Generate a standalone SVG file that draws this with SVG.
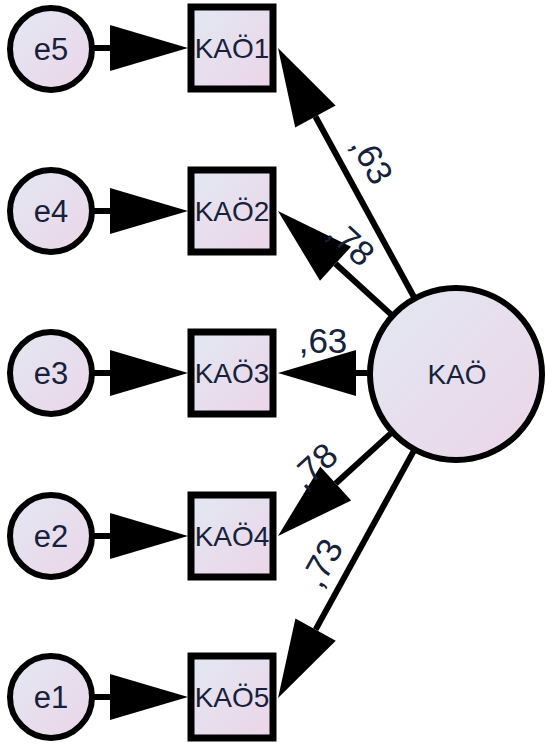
<svg xmlns="http://www.w3.org/2000/svg" width="546" height="748" viewBox="0 0 546 748">
<defs>
<linearGradient id="fill" x1="0" y1="0" x2="1" y2="1">
<stop offset="0" stop-color="#e2e8f2"/>
<stop offset="1" stop-color="#ecd5e8"/>
</linearGradient>
<marker id="ah" markerUnits="userSpaceOnUse" viewBox="0 0 78 46" markerWidth="78" markerHeight="46" refX="0" refY="23" orient="auto" overflow="visible">
<path d="M0,0 L78,23 L0,46 Z" fill="#000"/>
</marker>
<style>
.node{fill:url(#fill);stroke:#000;stroke-width:7}
.lat{fill:url(#fill);stroke:#000;stroke-width:6}
.t{font-family:"Liberation Sans",Arial,sans-serif;font-size:28px;fill:#17213a;text-anchor:middle}
.e{font-size:31px}
.lbl{font-family:"Liberation Sans",Arial,sans-serif;font-size:35px;fill:#17213a;text-anchor:middle}
.c line{stroke:#000;stroke-width:6;marker-end:url(#ah)}
</style>
</defs>
<rect width="546" height="748" fill="#fff"/>

<g class="c" id="connectors">
<line x1="92" y1="48" x2="110" y2="48"/>
<line x1="92" y1="211" x2="110" y2="211"/>
<line x1="92" y1="373" x2="110" y2="373"/>
<line x1="92" y1="536" x2="110" y2="536"/>
<line x1="92" y1="697" x2="110" y2="697"/>
<line x1="414.8" y1="298.5" x2="315.4" y2="116.5"/>
<line x1="392.6" y1="315.9" x2="335.5" y2="263.7"/>
<line x1="372" y1="373" x2="356" y2="373"/>
<line x1="392.4" y1="431.9" x2="335.7" y2="483.5"/>
<line x1="414.6" y1="449.4" x2="315.6" y2="629.6"/>
</g>

<g id="labels">
<text class="lbl" transform="translate(372,160) rotate(61.4)" dy="12">,63</text>
<text class="lbl" transform="translate(351,243) rotate(42.5)" dy="12">,78</text>
<text class="lbl" x="323" y="353">,63</text>
<text class="lbl" transform="translate(314,466) rotate(-42.3)" dy="12">,78</text>
<text class="lbl" transform="translate(322,563) rotate(-61.2)" dy="12">,73</text>
</g>

<g id="e5"><circle class="lat" cx="51" cy="49" r="41"/><text class="t e" x="51" y="60">e5</text></g>
<g id="e4"><circle class="lat" cx="51" cy="211" r="41"/><text class="t e" x="51" y="222">e4</text></g>
<g id="e3"><circle class="lat" cx="51" cy="373" r="41"/><text class="t e" x="51" y="384">e3</text></g>
<g id="e2"><circle class="lat" cx="51" cy="536" r="41"/><text class="t e" x="51" y="547">e2</text></g>
<g id="e1"><circle class="lat" cx="51" cy="697" r="41"/><text class="t e" x="51" y="708">e1</text></g>

<g id="KAO1"><rect class="node" x="191" y="7" width="82" height="82"/><text class="t" x="232" y="58">KAÖ1</text></g>
<g id="KAO2"><rect class="node" x="191" y="170" width="82" height="82"/><text class="t" x="232" y="221">KAÖ2</text></g>
<g id="KAO3"><rect class="node" x="191" y="332" width="82" height="82"/><text class="t" x="232" y="383">KAÖ3</text></g>
<g id="KAO4"><rect class="node" x="191" y="495" width="82" height="82"/><text class="t" x="232" y="546">KAÖ4</text></g>
<g id="KAO5"><rect class="node" x="191" y="656" width="82" height="82"/><text class="t" x="232" y="707">KAÖ5</text></g>

<g id="KAO"><circle class="lat" cx="456" cy="374" r="86"/><text class="t" x="457" y="384">KAÖ</text></g>
</svg>
